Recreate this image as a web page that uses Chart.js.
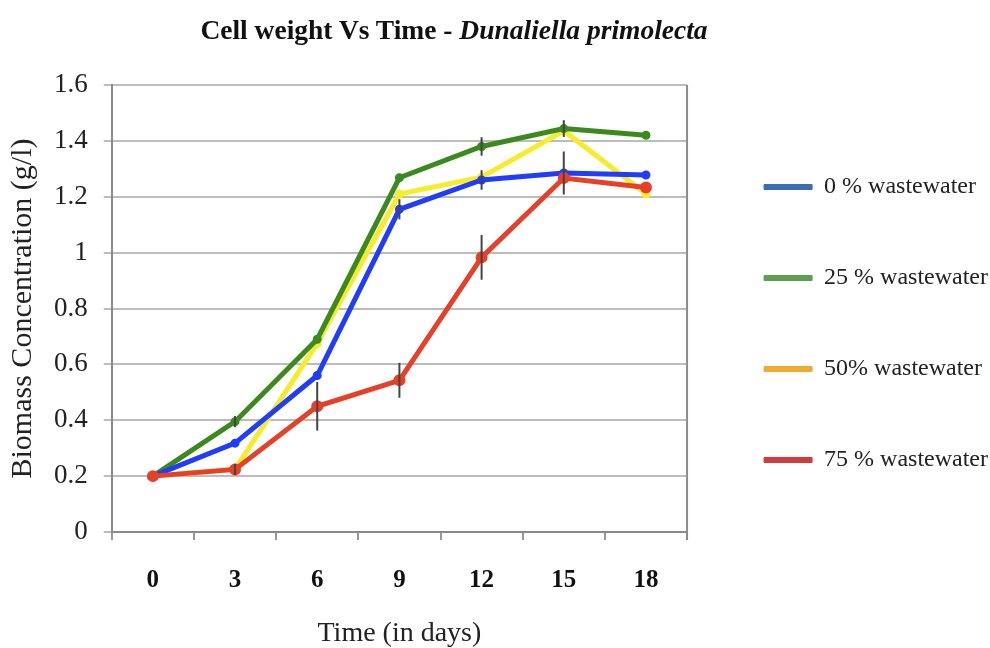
<!DOCTYPE html>
<html>
<head>
<meta charset="utf-8">
<script src="https://cdn.jsdelivr.net/npm/chart.js@4/dist/chart.umd.min.js"></script>
<style>
  html, body { margin: 0; padding: 0; background: #fff; }
  #wrap { position: relative; width: 990px; height: 648px; }
  #title { position: absolute; left: 0; top: 13px; width: 908px; text-align: center;
           font-family: "Liberation Serif", "Times New Roman", serif; font-weight: bold;
           font-size: 27.5px; color: #111; line-height: 34px; white-space: nowrap; }
  canvas { position: absolute; left: 0; top: 0; }
</style>
</head>
<body>
<div id="wrap">
  <canvas id="c" width="990" height="648"></canvas>
  <div id="title">Cell weight Vs Time - <i>Dunaliella primolecta</i></div>
</div>
<script>
// ---- data ----
const days = ['0', '3', '6', '9', '12', '15', '18'];
const seriesNames = ['0 % wastewater', '25 % wastewater', '50% wastewater', '75 % wastewater'];
const ww0  = [0.20, 0.318, 0.56, 1.155, 1.26, 1.285, 1.278];
const ww25 = [0.20, 0.395, 0.69, 1.268, 1.38, 1.444, 1.42];
const ww50 = [0.20, 0.225, 0.675, 1.21, 1.27, 1.436, 1.21];
const ww75 = [0.20, 0.224, 0.45, 0.543, 0.983, 1.267, 1.233];
// half-length of error bars
const err0  = [0, 0, 0, 0.036, 0.035, 0.077, 0];
const err25 = [0, 0.02, 0, 0, 0.033, 0.03, 0];
const err50 = [0, 0, 0, 0, 0, 0, 0];
const err75 = [0, 0.02, 0.087, 0.0625, 0.08, 0, 0];
const yTicks = [0, 0.2, 0.4, 0.6, 0.8, 1, 1.2, 1.4, 1.6];

const lineColors   = ['#1f3dfb', '#3c8a1d', '#f6ec2c', '#e6402a'];
const legendColors = ['#3b6db3', '#5f9f4f', '#f0aa32', '#d23b3b'];
const values = [ww0, ww25, ww50, ww75];
const errors = [err0, err25, err50, err75];
const drawOrder = [1, 2, 3, 0];

const serif = '"Liberation Serif", "Times New Roman", serif';

const errorBars = {
  id: 'errorBars',
  afterDatasetsDraw(chart) {
    const ctx = chart.ctx, x = chart.scales.x, y = chart.scales.y;
    ctx.save();
    ctx.strokeStyle = '#444';
    ctx.lineWidth = 2;
    errors.forEach((errs, s) => {
      errs.forEach((e, i) => {
        if (!e) return;
        const px = x.getPixelForValue(i);
        ctx.beginPath();
        ctx.moveTo(px, y.getPixelForValue(values[s][i] - e));
        ctx.lineTo(px, y.getPixelForValue(values[s][i] + e));
        ctx.stroke();
      });
    });
    ctx.restore();
  }
};
const frame = {
  id: 'frame',
  beforeDatasetsDraw(chart) {
    const {ctx, chartArea: a} = chart;
    ctx.save();
    ctx.strokeStyle = '#8a8a8a';
    ctx.lineWidth = 2;
    ctx.beginPath();
    ctx.moveTo(a.right, a.top);
    ctx.lineTo(a.right, a.bottom + 8);
    ctx.stroke();
    ctx.restore();
  }
};

new Chart(document.getElementById('c'), {
  type: 'line',
  data: {
    labels: days,
    datasets: values.map((v, i) => ({
      label: seriesNames[i],
      data: v,
      borderColor: lineColors[i],
      backgroundColor: legendColors[i],
      pointBackgroundColor: lineColors[i],
      pointBorderColor: lineColors[i],
      pointRadius: i === 3 ? 3.5 : 2,
      borderWidth: 5,
      tension: 0,
      order: drawOrder[i]
    }))
  },
  options: {
    responsive: false,
    animation: false,
    layout: { padding: { left: 8, top: 85, right: -8, bottom: 0 } },
    plugins: {
      tooltip: { enabled: false },
      title: { display: false },
      legend: {
        position: 'right',
        align: 'start',
        maxWidth: 400,
        title: { display: true, text: ' ', font: { size: 10 }, padding: { top: 11, bottom: 0 } },
        labels: {
          boxWidth: 48,
          boxHeight: 5,
          padding: 67,
          color: '#222',
          font: { family: serif, size: 24 },
          sort: (a, b) => a.datasetIndex - b.datasetIndex,
          generateLabels(chart) {
            return chart.data.datasets.map((d, i) => ({
              text: d.label,
              fillStyle: legendColors[i],
              strokeStyle: legendColors[i],
              fontColor: '#222',
              lineWidth: 1,
              datasetIndex: i,
              hidden: false
            }));
          }
        }
      }
    },
    scales: {
      x: {
        offset: true,
        grid: { drawOnChartArea: false, offset: true, color: '#999', lineWidth: 2, tickLength: 8 },
        border: { display: true, color: '#8a8a8a', width: 2 },
        ticks: { color: '#111', padding: 26, font: { family: serif, size: 25, weight: 'bold' } },
        title: { display: true, text: 'Time (in days)', color: '#222',
                 font: { family: serif, size: 28, lineHeight: 1.0 }, padding: { top: -2, bottom: 0 } }
      },
      y: {
        min: 0, max: 1.6,
        afterBuildTicks(scale) { scale.ticks = yTicks.map(v => ({ value: v })); },
        grid: { color: '#bcbcbc', lineWidth: 2, tickLength: 8 },
        border: { display: true, color: '#8a8a8a', width: 2 },
        ticks: { color: '#222', padding: 16, font: { family: serif, size: 27 },
                 callback: v => String(v) },
        title: { display: true, text: 'Biomass Concentration (g/l)', color: '#222',
                 font: { family: serif, size: 30, lineHeight: 1.0 }, padding: { top: 0, bottom: 0 } }
      },
      gap: {
        position: 'right',
        display: true,
        grid: { display: false },
        border: { display: false },
        ticks: { display: false },
        afterFit(scale) { scale.width = 10; }
      }
    }
  },
  plugins: [errorBars, frame]
});
</script>
</body>
</html>
